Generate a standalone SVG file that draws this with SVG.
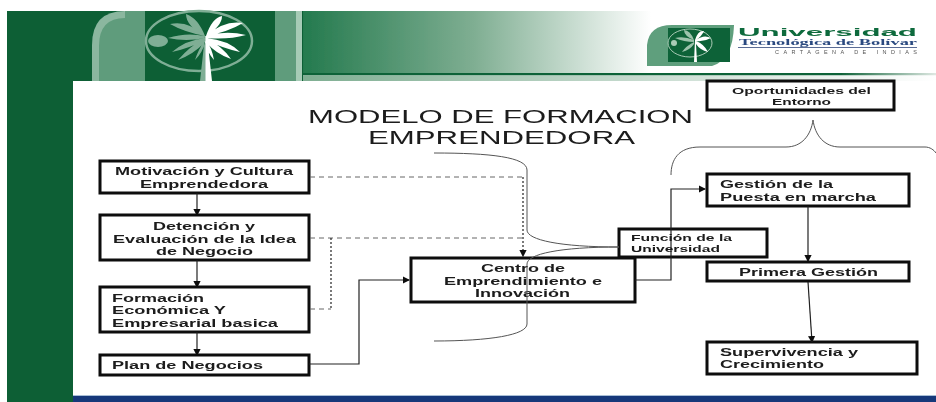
<svg xmlns="http://www.w3.org/2000/svg" width="936" height="402" viewBox="0 0 936 402">
<style>
.b{fill:#fff;stroke:#0a0a0a;stroke-width:3}
.t{font-family:"Liberation Sans",Arial,sans-serif;font-weight:700;font-size:10.7px;fill:#1a1a1a}
.s{font-size:9.6px}
.h{font-family:"Liberation Sans",Arial,sans-serif;font-size:18.5px;fill:#1a1a1a}
.l{fill:none;stroke:#222;stroke-width:1.2}
.c{fill:none;stroke:#555;stroke-width:1}
.d{fill:none;stroke:#666;stroke-width:1;stroke-dasharray:5 4}
.o{fill:none;stroke:#222;stroke-width:1.2;stroke-dasharray:2 2}
</style>
<defs>
<linearGradient id="g" gradientUnits="userSpaceOnUse" x1="303" x2="936" y1="0" y2="0"><stop offset="0" stop-color="#247a4e"/><stop offset=".27" stop-color="#7fae92"/><stop offset=".55" stop-color="#fff"/></linearGradient>
<linearGradient id="s" gradientUnits="userSpaceOnUse" x1="303" x2="936" y1="0" y2="0"><stop offset="0" stop-color="#0f6238"/><stop offset=".85" stop-color="#0f6238"/><stop offset="1" stop-color="#dfe9e3"/></linearGradient>
<linearGradient id="p" gradientUnits="userSpaceOnUse" x1="303" x2="936" y1="0" y2="0"><stop offset="0" stop-color="#7fae92"/><stop offset=".6" stop-color="#cfe0d6"/><stop offset="1" stop-color="#fff"/></linearGradient>
<marker id="a" markerWidth="6" markerHeight="6" refX="5" refY="3" orient="auto"><path d="M0 0L6 3L0 6z" fill="#111"/></marker>
<filter id="f" x="0" y="0" width="1" height="1" filterUnits="objectBoundingBox"><feGaussianBlur stdDeviation="0.4"/></filter>
</defs>
<rect width="936" height="402" fill="#fff"/>
<g filter="url(#f)">
<rect width="936" height="402" fill="#fff"/>
<g id="fondo">
<rect x="7" y="11" width="66" height="391" fill="#0a5f35"/>
<rect x="7" y="11" width="296" height="70" fill="#0a5f35"/>
<path d="M92 81V45Q92 11 125 11H145V81z" fill="#8bb79f"/>
<path d="M99 81V46Q99 18 125 18V11H145V81z" fill="#5f9c7c"/>
<rect x="275" y="11" width="21" height="70" fill="#5f9c7c"/>
<rect x="296" y="11" width="6" height="70" fill="#a6cbb6"/>
<rect x="303" y="11" width="633" height="62" fill="url(#g)"/>
<rect x="303" y="73" width="633" height="2.5" fill="url(#s)"/>
<rect x="303" y="75.5" width="633" height="5.5" fill="url(#p)"/>
<rect x="73" y="396" width="863" height="6" fill="#16387a"/>
<rect x="73" y="395" width="863" height="1" fill="#a9bfd6"/>
<ellipse cx="199" cy="41" rx="53" ry="30" fill="none" stroke="#7fae95" stroke-width="2.5"/>
<ellipse cx="158" cy="41" rx="10" ry="6" fill="#7fae95"/>
<path fill="#7fae95" d="M205 36Q198 18 186 14Q186 26 205 36M205 36Q188 20 170 24Q184 32 205 36M205 36Q186 32 168 38Q186 42 205 38M205 38Q186 40 172 52Q190 48 205 40M205 38Q190 46 178 60Q194 54 205 42M205 40Q198 50 195 60Q203 52 205 42M200 81L205 36H207V81z"/>
<path fill="#fff" d="M206 36Q212 18 222 16Q222 26 206 36M206 36Q224 20 243 23Q228 32 206 36M206 36Q226 30 246 35Q228 40 206 38M206 38Q228 40 240 52Q222 48 206 40M206 38Q222 46 231 59Q216 54 206 42M206 40Q212 48 214 60Q207 52 205 42M205.5 81L205.5 36H207L212 81z"/>
</g>
<g id="logo">
<path d="M647 45Q649 25 672 25H734Q733 60 712 66H647z" fill="#5f9f7d"/>
<rect x="668" y="28" width="62" height="34" fill="#0f6238"/>
<ellipse cx="690" cy="43" rx="22" ry="14" fill="none" stroke="#a9cbb6" stroke-width="1"/>
<circle cx="674" cy="43" r="3" fill="#a9cbb6"/>
<path fill="#9cc3ac" d="M694 40Q690 30 684 30Q684 36 694 40M694 40Q684 36 675 38Q684 42 694 42M694 42Q686 46 682 52Q690 50 694 44"/>
<path fill="#fff" d="M694 62L695 40Q698 30 704 31Q702 36 696 40Q704 34 711 38Q704 42 696 41Q704 44 708 52Q700 50 696 44L697 62z"/>
<text x="738" y="35.5" font-family="'Liberation Sans',Arial,sans-serif" font-weight="700" font-size="10" fill="#0f6a3c" textLength="179" lengthAdjust="spacingAndGlyphs">Universidad</text>
<text x="739" y="45" font-family="'Liberation Serif',serif" font-weight="700" font-size="9" fill="#2b4a80" textLength="178" lengthAdjust="spacingAndGlyphs">Tecnológica de Bolívar</text>
<rect x="738" y="47" width="179" height="1" fill="#5a6c95"/>
<text x="775" y="53.5" font-family="'Liberation Sans',Arial,sans-serif" font-size="5.5" fill="#555" textLength="142" lengthAdjust="spacing">CARTAGENA DE INDIAS</text>
</g>
<g id="titulo">
<text class="h" x="308" y="123" textLength="385" lengthAdjust="spacingAndGlyphs">MODELO DE FORMACION</text>
<text class="h" x="368" y="144" textLength="267" lengthAdjust="spacingAndGlyphs">EMPRENDEDORA</text>
</g>
<g id="motivacion"><rect class="b" x="100" y="161" width="209" height="32"/>
<text class="t" x="115" y="175" textLength="178" lengthAdjust="spacingAndGlyphs">Motivación y Cultura</text>
<text class="t" x="140" y="188" textLength="128" lengthAdjust="spacingAndGlyphs">Emprendedora</text></g>
<g id="detencion"><rect class="b" x="100" y="215" width="209" height="45"/>
<text class="t" x="153" y="230" textLength="102" lengthAdjust="spacingAndGlyphs">Detención y</text>
<text class="t" x="113" y="242.5" textLength="183" lengthAdjust="spacingAndGlyphs">Evaluación de la Idea</text>
<text class="t" x="156" y="255" textLength="97" lengthAdjust="spacingAndGlyphs">de Negocio</text></g>
<g id="formacion"><rect class="b" x="100" y="287" width="209" height="45"/>
<text class="t" x="112" y="302" textLength="92" lengthAdjust="spacingAndGlyphs">Formación</text>
<text class="t" x="112" y="314" textLength="114" lengthAdjust="spacingAndGlyphs">Económica Y</text>
<text class="t" x="112" y="326.5" textLength="166" lengthAdjust="spacingAndGlyphs">Empresarial basica</text></g>
<g id="plan"><rect class="b" x="100" y="355" width="209" height="20"/>
<text class="t" x="112" y="369" textLength="151" lengthAdjust="spacingAndGlyphs">Plan de Negocios</text></g>
<g id="centro"><rect class="b" x="411" y="258" width="224" height="44"/>
<text class="t" x="481" y="272" textLength="84" lengthAdjust="spacingAndGlyphs">Centro de</text>
<text class="t" x="444" y="284.5" textLength="158" lengthAdjust="spacingAndGlyphs">Emprendimiento e</text>
<text class="t" x="475" y="297" textLength="95" lengthAdjust="spacingAndGlyphs">Innovación</text></g>
<g id="funcion"><rect class="b" x="619" y="229" width="148" height="28"/>
<text class="t s" x="631" y="241" textLength="101" lengthAdjust="spacingAndGlyphs">Función de la</text>
<text class="t s" x="631" y="252" textLength="89" lengthAdjust="spacingAndGlyphs">Universidad</text></g>
<g id="oportunidades"><rect class="b" x="707" y="81" width="187" height="29"/>
<text class="t s" x="732" y="94" textLength="139" lengthAdjust="spacingAndGlyphs">Oportunidades del</text>
<text class="t s" x="772" y="105" textLength="59" lengthAdjust="spacingAndGlyphs">Entorno</text></g>
<g id="gestion"><rect class="b" x="707" y="174" width="202" height="32"/>
<text class="t" x="720" y="188" textLength="113" lengthAdjust="spacingAndGlyphs">Gestión de la</text>
<text class="t" x="720" y="201" textLength="156" lengthAdjust="spacingAndGlyphs">Puesta en marcha</text></g>
<g id="primera"><rect class="b" x="707" y="262" width="202" height="19"/>
<text class="t" x="739" y="276" textLength="139" lengthAdjust="spacingAndGlyphs">Primera Gestión</text></g>
<g id="supervivencia"><rect class="b" x="707" y="342" width="210" height="32"/>
<text class="t" x="720" y="356" textLength="138" lengthAdjust="spacingAndGlyphs">Supervivencia y</text>
<text class="t" x="720" y="368" textLength="104" lengthAdjust="spacingAndGlyphs">Crecimiento</text></g>
<g id="conectores">
<path class="l" d="M197 193V215" marker-end="url(#a)"/>
<path class="l" d="M197 260V287" marker-end="url(#a)"/>
<path class="l" d="M197 332V355" marker-end="url(#a)"/>
<path class="l" d="M309 364H359V280H409" marker-end="url(#a)"/>
<path class="l" d="M635 280H671V189H705" marker-end="url(#a)"/>
<path class="l" d="M808 206V261" marker-end="url(#a)"/>
<path class="l" d="M808 282L812 342" marker-end="url(#a)"/>
<path class="d" d="M310 177H523"/>
<path class="d" d="M310 238H523"/>
<path class="d" d="M310 309H331"/>
<path class="o" d="M331 238V309"/>
<path class="o" d="M523 177V256" marker-end="url(#a)"/>
<path class="c" d="M434 153C490 153 527 157 527 170V230C527 240 560 247 619 247C560 247 527 254 527 264V324C527 335 490 341 434 341"/>
<path class="c" d="M671 175C671 160 678 147 700 147H786C802 147 811 135 813 120C815 135 824 147 840 147H925C930 147 934 150 936 153"/>
</g>
</g>
</svg>
